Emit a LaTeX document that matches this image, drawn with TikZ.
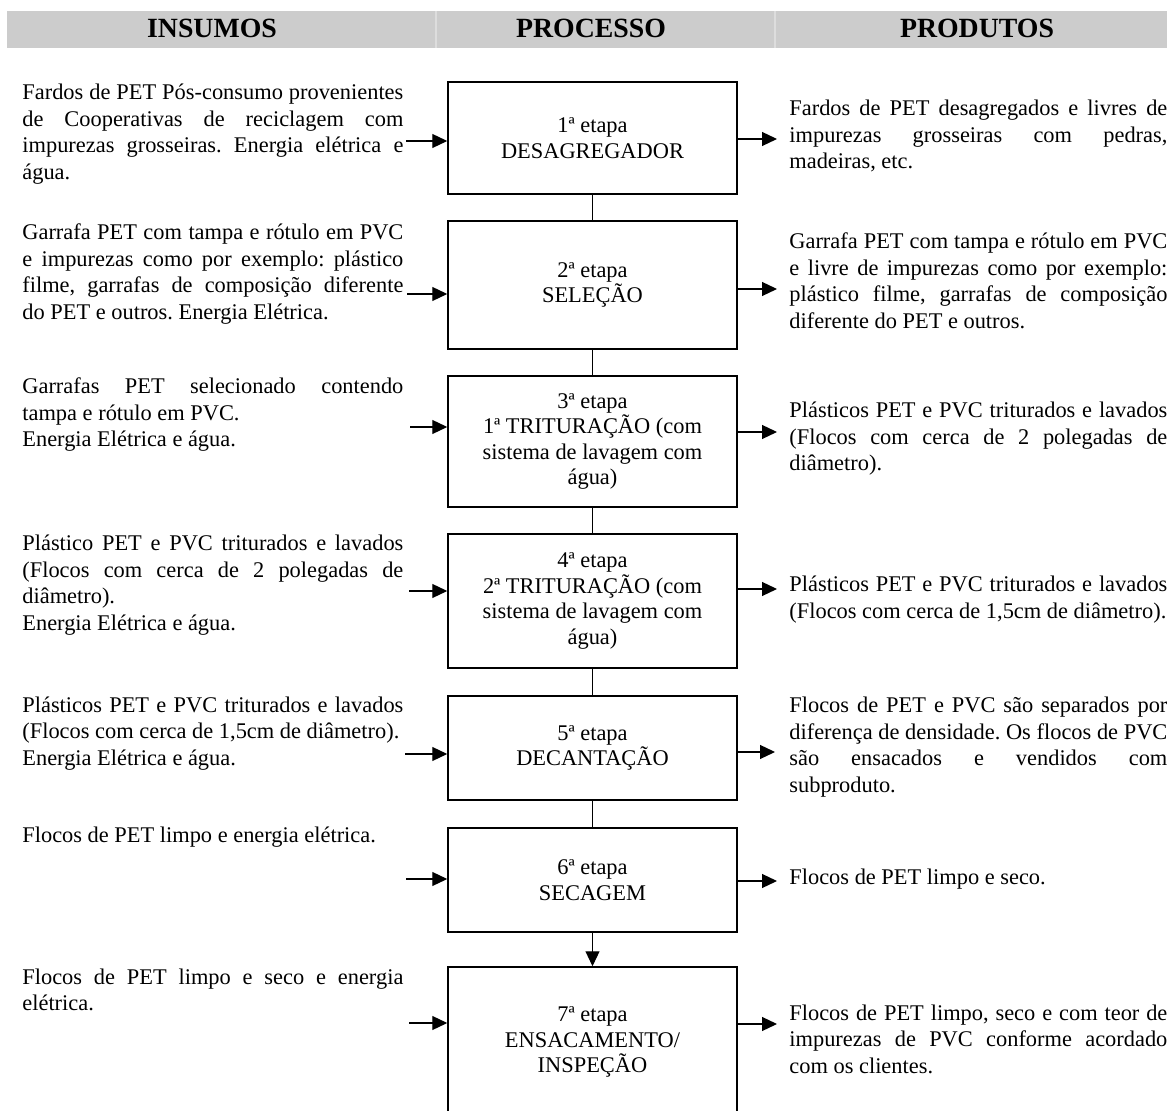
\documentclass[tikz,border=0pt]{standalone}
\usepackage{fontspec}
\setmainfont{Liberation Serif}
\usetikzlibrary{arrows.meta}

\definecolor{headgray}{HTML}{CCCCCC}
\definecolor{headgap}{HTML}{DDDDDD}

\newcommand\bodyfont{\fontsize{11.2pt}{13.25pt}\selectfont}
\newcommand\boxfont{\fontsize{11.2pt}{12.8pt}\selectfont}
\newcommand\headfont{\fontsize{13.9pt}{16pt}\selectfont\bfseries}

\tikzset{
  stepbox/.style={draw, line width=0.75pt, minimum width=144.5pt, inner sep=0pt,
    align=center, font=\boxfont},
  link/.style={line width=0.5pt},
  feed/.style={line width=0.6pt, -{Triangle[length=7.5pt,width=7pt]}},
  flowtext/.style={anchor=base west, inner sep=0pt, text width=190.5pt,
    align=justify, font=\bodyfont,
    execute at begin node={\frenchspacing\tolerance=10000\hyphenpenalty=10000\exhyphenpenalty=10000}},
  outtext/.style={flowtext, text width=189pt},
  headcell/.style={fill=headgray, draw=none},
  headtext/.style={font=\headfont, inner sep=0pt},
}

\begin{document}
\begin{tikzpicture}[x=0.5pt, y=-0.5pt]
\useasboundingbox (0,0) rectangle (1167,1111);

% header band
\fill[headgap] (7,11) rectangle (1167,48);
\fill[headgray] (7,11) rectangle (435,48);
\fill[headgray] (437,11) rectangle (774,48);
\fill[headgray] (776,11) rectangle (1167,48);
\node[headtext] (hin)  at (212,28) {INSUMOS};
\node[headtext] (hpro) at (591,28) {PROCESSO};
\node[headtext] (hout) at (977,28) {PRODUTOS};

% process steps
\node[stepbox, minimum height=56pt]   (b1) at (592.5,138)   {1ª etapa\\DESAGREGADOR};
\node[stepbox, minimum height=64pt]   (b2) at (592.5,285)   {2ª etapa\\SELEÇÃO};
\node[stepbox, minimum height=65.5pt] (b3) at (592.5,441.5) {3ª etapa\\1ª TRITURAÇÃO (com\\sistema de lavagem com\\água)};
\node[stepbox, minimum height=67pt]   (b4) at (592.5,601)   {4ª etapa\\2ª TRITURAÇÃO (com\\sistema de lavagem com\\água)};
\node[stepbox, minimum height=52pt]   (b5) at (592.5,748)   {5ª etapa\\DECANTAÇÃO};
\node[stepbox, minimum height=52pt]   (b6) at (592.5,880)   {6ª etapa\\SECAGEM};
\node[stepbox, minimum height=75pt]   (b7) at (592.5,1042)  {7ª etapa\\ENSACAMENTO/\\INSPEÇÃO};

\draw[link] (b1.south) -- (b2.north);
\draw[link] (b2.south) -- (b3.north);
\draw[link] (b3.south) -- (b4.north);
\draw[link] (b4.south) -- (b5.north);
\draw[link] (b5.south) -- (b6.north);
\draw[feed] (b6.south) -- (b7.north);

% inputs
\node[flowtext] (in1) at (22,100) {Fardos de PET Pós-consumo provenientes\linebreak de Cooperativas de reciclagem com\linebreak impurezas grosseiras. Energia elétrica e\linebreak água.};
\node[flowtext] (in2) at (22,240) {Garrafa PET com tampa e rótulo em PVC\linebreak e impurezas como por exemplo: plástico\linebreak filme, garrafas de composição diferente\linebreak do PET e outros. Energia Elétrica.};
\node[flowtext] (in3) at (22,394) {Garrafas PET selecionado contendo\linebreak tampa e rótulo em PVC.\\Energia Elétrica e água.};
\node[flowtext] (in4) at (22,551) {Plástico PET e PVC triturados e lavados\linebreak (Flocos com cerca de 2 polegadas de\linebreak diâmetro).\\Energia Elétrica e água.};
\node[flowtext] (in5) at (22,712) {Plásticos PET e PVC triturados e lavados\linebreak (Flocos com cerca de 1,5cm de diâmetro).\\Energia Elétrica e água.};
\node[flowtext] (in6) at (22,842) {Flocos de PET limpo e energia elétrica.};
\node[flowtext] (in7) at (22,984) {Flocos de PET limpo e seco e energia\linebreak elétrica.};

% outputs
\node[outtext] (out1) at (789,116) {Fardos de PET desagregados e livres de\linebreak impurezas grosseiras com pedras,\linebreak madeiras, etc.};
\node[outtext] (out2) at (789,249) {Garrafa PET com tampa e rótulo em PVC\linebreak e livre de impurezas como por exemplo:\linebreak plástico filme, garrafas de composição\linebreak diferente do PET e outros.};
\node[outtext] (out3) at (789,418) {Plásticos PET e PVC triturados e lavados\linebreak (Flocos com cerca de 2 polegadas de\linebreak diâmetro).};
\node[outtext] (out4) at (789,592) {Plásticos PET e PVC triturados e lavados\linebreak (Flocos com cerca de 1,5cm de diâmetro).};
\node[outtext] (out5) at (789,713) {Flocos de PET e PVC são separados por\linebreak diferença de densidade. Os flocos de PVC\linebreak são ensacados e vendidos com\linebreak subproduto.};
\node[outtext] (out6) at (789,884) {Flocos de PET limpo e seco.};
\node[outtext] (out7) at (789,1020) {Flocos de PET limpo, seco e com teor de\linebreak impurezas de PVC conforme acordado\linebreak com os clientes.};

% input arrows
\coordinate (a1) at (406,141);
\coordinate (a2) at (407,294);
\coordinate (a3) at (410,427);
\coordinate (a4) at (409,591);
\coordinate (a5) at (405,754);
\coordinate (a6) at (406,879);
\coordinate (a7) at (409,1023);
\draw[feed] (a1) -- (a1 -| b1.west);
\draw[feed] (a2) -- (a2 -| b2.west);
\draw[feed] (a3) -- (a3 -| b3.west);
\draw[feed] (a4) -- (a4 -| b4.west);
\draw[feed] (a5) -- (a5 -| b5.west);
\draw[feed] (a6) -- (a6 -| b6.west);
\draw[feed] (a7) -- (a7 -| b7.west);

% output arrows
\coordinate (p1) at (777,139);
\coordinate (p2) at (777,289);
\coordinate (p3) at (777,432);
\coordinate (p4) at (777,589);
\coordinate (p5) at (775,752);
\coordinate (p6) at (777,881);
\coordinate (p7) at (777,1024);
\draw[feed] (p1 -| b1.east) -- (p1);
\draw[feed] (p2 -| b2.east) -- (p2);
\draw[feed] (p3 -| b3.east) -- (p3);
\draw[feed] (p4 -| b4.east) -- (p4);
\draw[feed] (p5 -| b5.east) -- (p5);
\draw[feed] (p6 -| b6.east) -- (p6);
\draw[feed] (p7 -| b7.east) -- (p7);
\end{tikzpicture}
\end{document}
